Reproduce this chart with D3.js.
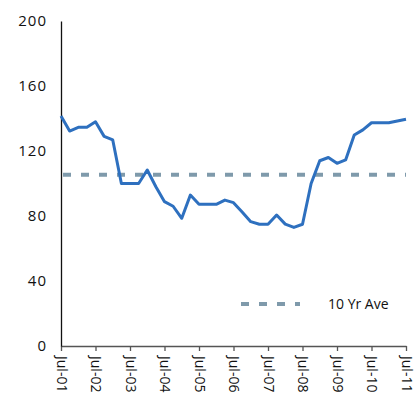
<!DOCTYPE html>
<html>
<head>
<meta charset="utf-8">
<script src="https://cdn.jsdelivr.net/npm/d3@7"></script>
<style>
  body { margin: 0; background: #fff; }
  text { font-family: "Open Sans", sans-serif; }
</style>
</head>
<body>
<div id="chart"></div>
<script>
// quarterly index values, Jul-01 .. Jul-11
const values = [141.5, 132.3, 134.6, 134.6, 138, 129, 126.8, 100, 100, 100,
  108.3, 98, 88.8, 86, 78.6, 92.9, 87.2, 87.2, 87.2, 89.8,
  88.2, 82.5, 76.5, 74.9, 74.9, 80.6, 75, 73, 74.9, 100,
  114, 116, 112.4, 114.5, 129.8, 133, 137.4, 137.4, 137.4, 138.5, 139.5];
const tickLabels = ["Jul-01", "Jul-02", "Jul-03", "Jul-04", "Jul-05", "Jul-06",
  "Jul-07", "Jul-08", "Jul-09", "Jul-10", "Jul-11"];
const yTicks = [0, 40, 80, 120, 160, 200];
const tenYrAve = 105.4;
const legendLabel = "10 Yr Ave";

const width = 417, height = 399;
const margin = {top: 21, right: 11, bottom: 53, left: 61};

const svg = d3.select("#chart")
  .append("svg")
  .attr("width", width)
  .attr("height", height)
  .attr("viewBox", [0, 0, width, height]);

// scales
const x = d3.scaleLinear()
  .domain([0, values.length - 1])
  .range([margin.left, width - margin.right]);

const y = d3.scaleLinear()
  .domain([0, 200])
  .range([height - margin.bottom, margin.top]);

// x axis
svg.append("g")
  .attr("transform", `translate(0,${height - margin.bottom})`)
  .call(d3.axisBottom(x)
    .tickValues(tickLabels.map((d, i) => i * 4))
    .tickFormat((d) => tickLabels[d / 4])
    .tickSize(5)
    .tickSizeOuter(0))
  .call((g) => g.select(".domain").attr("stroke", "#555").attr("stroke-width", 1.3))
  .call((g) => g.selectAll(".tick line").attr("stroke", "#555").attr("stroke-width", 1.3))
  .call((g) => g.selectAll(".tick text")
    .attr("font-size", "14px")
    .attr("fill", "#111")
    .attr("text-anchor", "start")
    .attr("transform", "rotate(90)")
    .attr("x", 10)
    .attr("y", 0)
    .attr("dy", "0.35em"));

// y axis
svg.append("g")
  .attr("transform", `translate(${margin.left},0)`)
  .call(d3.axisLeft(y).tickValues(yTicks).tickSize(0).tickPadding(14).tickSizeOuter(0))
  .call((g) => g.select(".domain").attr("stroke", "#111").attr("stroke-width", 1.3))
  .call((g) => g.selectAll(".tick text")
    .attr("font-size", "15px")
    .attr("fill", "#111")
    .attr("letter-spacing", "1px"));

// 10 year average
svg.append("line")
  .attr("x1", x(0) + 2)
  .attr("x2", x(values.length - 1))
  .attr("y1", y(tenYrAve))
  .attr("y2", y(tenYrAve))
  .attr("stroke", "#7f9aab")
  .attr("stroke-width", 4)
  .attr("stroke-dasharray", "8,10");

// main line
const line = d3.line()
  .x((d, i) => x(i))
  .y((d) => y(d));

svg.append("path")
  .datum(values)
  .attr("fill", "none")
  .attr("stroke", "#2e70bf")
  .attr("stroke-width", 3)
  .attr("stroke-linejoin", "round")
  .attr("d", line);

// legend
const lg = svg.append("g").attr("transform", "translate(241,304)");
lg.append("line")
  .attr("x1", 0).attr("x2", 59)
  .attr("y1", 0).attr("y2", 0)
  .attr("stroke", "#7f9aab")
  .attr("stroke-width", 4)
  .attr("stroke-dasharray", "8,10");
lg.append("text")
  .attr("x", 87)
  .attr("y", 0)
  .attr("dy", "0.35em")
  .attr("font-size", "14px")
  .attr("fill", "#111")
  .text(legendLabel);
</script>
</body>
</html>
